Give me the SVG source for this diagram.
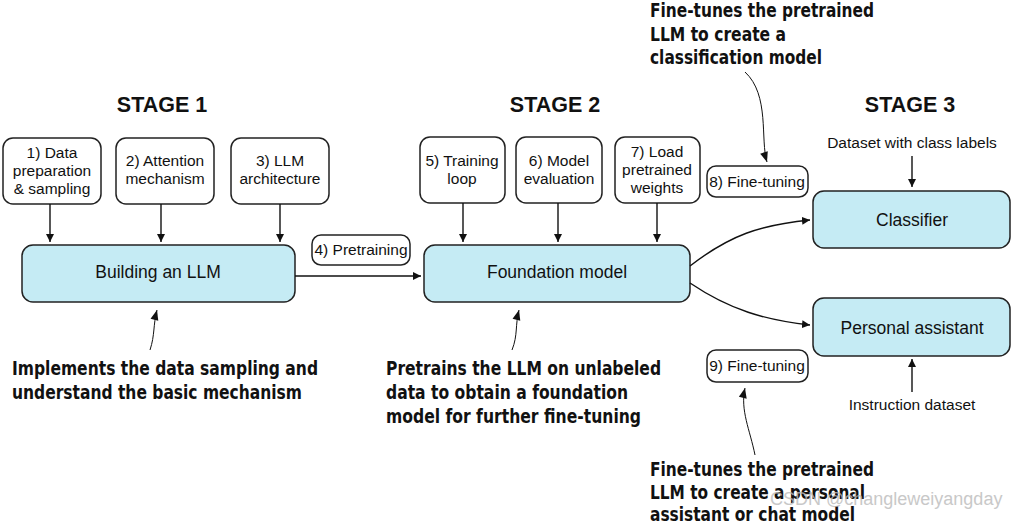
<svg xmlns="http://www.w3.org/2000/svg" width="1012" height="524" viewBox="0 0 1012 524">
<style>
.box{fill:#fff;stroke:#222;stroke-width:1.5}
.main{fill:#c5ebf4;stroke:#222;stroke-width:1.5}
.t{font-family:"Liberation Sans",Arial,sans-serif;font-size:15.5px;fill:#111;text-anchor:middle}
.tm{font-family:"Liberation Sans",Arial,sans-serif;font-size:17.5px;fill:#111;text-anchor:middle}
.st{font-family:"Liberation Sans",Arial,sans-serif;font-size:21.5px;font-weight:bold;fill:#111;text-anchor:middle}
.ann{font-family:"Liberation Sans Narrow","DejaVu Sans Condensed","Open Sans",sans-serif;font-size:20px;font-weight:bold;fill:#111}
.c{fill:none;stroke:#111;stroke-width:1.4}
.ca{fill:none;stroke:#111;stroke-width:1}
.wm{font-family:"Liberation Sans",Arial,sans-serif;font-size:18px;fill:#bbb;opacity:0.8}
</style>
<defs>
<marker id="ah" viewBox="0 0 10 10" refX="10" refY="5" markerWidth="8" markerHeight="8" markerUnits="userSpaceOnUse" orient="auto"><path d="M0,0 L10,5 L0,10 z" fill="#111"/></marker>
<marker id="ah2" viewBox="0 0 10 10" refX="10" refY="5" markerWidth="14" markerHeight="10" markerUnits="userSpaceOnUse" orient="auto"><path d="M0,1 L10,5 L0,9 z" fill="#111"/></marker>
</defs>

<text class="st" x="162" y="112">STAGE 1</text>
<text class="st" x="555" y="112">STAGE 2</text>
<text class="st" x="910" y="112">STAGE 3</text>

<g id="n1"><rect class="box" x="3" y="138" width="98" height="66" rx="10"/><text class="t" x="52" y="158">1) Data</text><text class="t" x="52" y="176">preparation</text><text class="t" x="52" y="194">&amp; sampling</text></g>
<g id="n2"><rect class="box" x="116" y="138" width="98" height="66" rx="10"/><text class="t" x="165" y="166">2) Attention</text><text class="t" x="165" y="184">mechanism</text></g>
<g id="n3"><rect class="box" x="231" y="138" width="98" height="66" rx="10"/><text class="t" x="280" y="166">3) LLM</text><text class="t" x="280" y="184">architecture</text></g>
<g id="build"><rect class="main" x="22" y="245" width="273" height="57" rx="11"/><text class="tm" x="158" y="278">Building an LLM</text></g>
<g id="n4"><rect class="box" x="312" y="235" width="98" height="30" rx="9"/><text class="t" x="361" y="255">4) Pretraining</text></g>
<g id="n5"><rect class="box" x="420" y="137" width="85" height="66" rx="10"/><text class="t" x="462" y="166">5) Training</text><text class="t" x="462" y="184">loop</text></g>
<g id="n6"><rect class="box" x="516" y="137" width="86" height="66" rx="10"/><text class="t" x="559" y="166">6) Model</text><text class="t" x="559" y="184">evaluation</text></g>
<g id="n7"><rect class="box" x="615" y="137" width="85" height="66" rx="10"/><text class="t" x="657" y="157">7) Load</text><text class="t" x="657" y="175">pretrained</text><text class="t" x="657" y="193">weights</text></g>
<g id="found"><rect class="main" x="424" y="245" width="266" height="57" rx="11"/><text class="tm" x="557" y="278">Foundation model</text></g>
<g id="n8"><rect class="box" x="707" y="166" width="101" height="31" rx="9"/><text class="t" x="757" y="187">8) Fine-tuning</text></g>
<g id="cls"><rect class="main" x="813" y="191" width="197" height="57" rx="11"/><text class="tm" x="912" y="226">Classifier</text></g>
<g id="ds1"><text class="t" x="912" y="148">Dataset with class labels</text></g>
<g id="pa"><rect class="main" x="813" y="298" width="197" height="58" rx="11"/><text class="tm" x="912" y="334">Personal assistant</text></g>
<g id="n9"><rect class="box" x="707" y="350" width="101" height="32" rx="9"/><text class="t" x="757" y="371">9) Fine-tuning</text></g>
<g id="ds2"><text class="t" x="912" y="410">Instruction dataset</text></g>

<g id="annotations">
<text class="ann" x="650" y="17" textLength="224" lengthAdjust="spacingAndGlyphs">Fine-tunes the pretrained</text>
<text class="ann" x="650" y="41" textLength="136" lengthAdjust="spacingAndGlyphs">LLM to create a</text>
<text class="ann" x="650" y="64" textLength="172" lengthAdjust="spacingAndGlyphs">classification model</text>
<text class="ann" x="12" y="375" textLength="306" lengthAdjust="spacingAndGlyphs">Implements the data sampling and</text>
<text class="ann" x="12" y="399" textLength="290" lengthAdjust="spacingAndGlyphs">understand the basic mechanism</text>
<text class="ann" x="386" y="375" textLength="275" lengthAdjust="spacingAndGlyphs">Pretrains the LLM on unlabeled</text>
<text class="ann" x="386" y="399" textLength="242" lengthAdjust="spacingAndGlyphs">data to obtain a foundation</text>
<text class="ann" x="386" y="423" textLength="255" lengthAdjust="spacingAndGlyphs">model for further fine-tuning</text>
<text class="ann" x="650" y="476" textLength="224" lengthAdjust="spacingAndGlyphs">Fine-tunes the pretrained</text>
<text class="ann" x="650" y="499" textLength="215" lengthAdjust="spacingAndGlyphs">LLM to create a personal</text>
<text class="ann" x="650" y="521" textLength="205" lengthAdjust="spacingAndGlyphs">assistant or chat model</text>
</g>

<g id="connectors">
<line class="c" x1="50" y1="204" x2="50" y2="242" marker-end="url(#ah)"/>
<line class="c" x1="161" y1="204" x2="161" y2="242" marker-end="url(#ah)"/>
<line class="c" x1="280" y1="204" x2="280" y2="242" marker-end="url(#ah)"/>
<line class="c" x1="463" y1="203" x2="463" y2="242" marker-end="url(#ah)"/>
<line class="c" x1="558" y1="203" x2="558" y2="242" marker-end="url(#ah)"/>
<line class="c" x1="657" y1="203" x2="657" y2="242" marker-end="url(#ah)"/>
<line class="c" x1="295" y1="276" x2="421" y2="276" marker-end="url(#ah)"/>
<path class="c" d="M690,266 C730,235 760,225 810,220" marker-end="url(#ah)"/>
<path class="c" d="M690,283 C730,310 765,320 810,325" marker-end="url(#ah)"/>
<line class="c" x1="912" y1="156" x2="912" y2="187" marker-end="url(#ah)"/>
<line class="c" x1="912" y1="392" x2="912" y2="359" marker-end="url(#ah)"/>
<path class="ca" d="M745,72 C770,95 760,140 767,162" marker-end="url(#ah2)"/>
<path class="ca" d="M755,455 C750,430 740,410 745,388" marker-end="url(#ah2)"/>
<path class="ca" d="M150,350 C155,335 153,325 157,310" marker-end="url(#ah2)"/>
<path class="ca" d="M512,350 C518,335 515,325 519,310" marker-end="url(#ah2)"/>
</g>
<text class="wm" x="770" y="505">CSDN @changleweiyangday</text>
</svg>
